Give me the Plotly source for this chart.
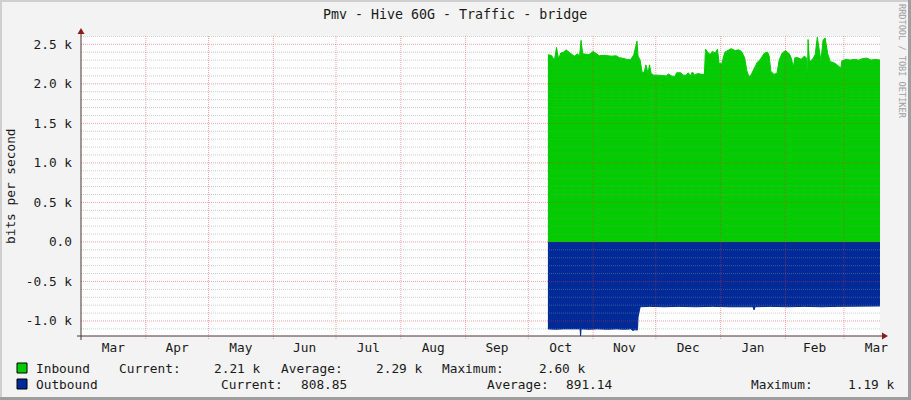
import pandas as pd
import plotly.graph_objects as go

TITLE = "Pmv - Hive 60G - Traffic - bridge"
Y_TITLE = "bits per second"
CREDIT = "RRDTOOL / TOBI OETIKER"

# month boundaries shown on the x axis (labels sit in the middle of each month)
MONTH_STARTS = pd.date_range("2018-03-01", "2019-04-01", freq="MS")
X_RANGE = ["2018-03-01", "2019-03-18 06:00"]

Y_TICKS = [-1000, -500, 0, 500, 1000, 1500, 2000, 2500]
Y_TICK_TEXT = ["-1.0 k", "-0.5 k", "0.0", "0.5 k", "1.0 k", "1.5 k", "2.0 k", "2.5 k"]
Y_RANGE = [-1190, 2605]

# Inbound traffic (bits per second)
IN_DATES = [
    "2018-10-10 09:00", "2018-10-12", "2018-10-13 12:00", "2018-10-14 12:00", "2018-10-15 12:00",
    "2018-10-16 12:00", "2018-10-18", "2018-10-19", "2018-10-20", "2018-10-21 12:00",
    "2018-10-23", "2018-10-24 12:00", "2018-10-25 12:00", "2018-10-26 06:00", "2018-10-27",
    "2018-10-28 12:00", "2018-10-30", "2018-11-01", "2018-11-02 12:00", "2018-11-04",
    "2018-11-06", "2018-11-08", "2018-11-10", "2018-11-12", "2018-11-13 12:00",
    "2018-11-15", "2018-11-17", "2018-11-19", "2018-11-20 12:00", "2018-11-22",
    "2018-11-22 12:00", "2018-11-23 12:00", "2018-11-24 12:00", "2018-11-25 12:00", "2018-11-26 06:00",
    "2018-11-27 06:00", "2018-11-28", "2018-11-28 18:00", "2018-11-30", "2018-12-02",
    "2018-12-04", "2018-12-06", "2018-12-07", "2018-12-08 12:00", "2018-12-10",
    "2018-12-11", "2018-12-13", "2018-12-14", "2018-12-15 12:00", "2018-12-16 12:00",
    "2018-12-17 12:00", "2018-12-18 12:00", "2018-12-19 12:00", "2018-12-21", "2018-12-23",
    "2018-12-24 06:00", "2018-12-24 18:00", "2018-12-25 12:00", "2018-12-27", "2018-12-28",
    "2018-12-29 12:00", "2018-12-30 12:00", "2018-12-31 06:00", "2019-01-01 12:00", "2019-01-03",
    "2019-01-04 12:00", "2019-01-06", "2019-01-08", "2019-01-09 12:00", "2019-01-11",
    "2019-01-12 12:00", "2019-01-13 12:00", "2019-01-14 12:00", "2019-01-15 12:00", "2019-01-17",
    "2019-01-18 12:00", "2019-01-20", "2019-01-22", "2019-01-23 12:00", "2019-01-24 06:00",
    "2019-01-25", "2019-01-26 12:00", "2019-01-28", "2019-01-29", "2019-01-30 12:00",
    "2019-02-01", "2019-02-02 12:00", "2019-02-03 06:00", "2019-02-04", "2019-02-04 18:00",
    "2019-02-05 12:00", "2019-02-07", "2019-02-08 12:00", "2019-02-10", "2019-02-11",
    "2019-02-11 12:00", "2019-02-11 20:00", "2019-02-12 12:00", "2019-02-14", "2019-02-15 06:00",
    "2019-02-16 06:00", "2019-02-17 06:00", "2019-02-18", "2019-02-19", "2019-02-20",
    "2019-02-21 06:00", "2019-02-22 12:00", "2019-02-24", "2019-02-25 12:00", "2019-02-27 12:00",
    "2019-02-28", "2019-03-02", "2019-03-04", "2019-03-06", "2019-03-08",
    "2019-03-10", "2019-03-12", "2019-03-14", "2019-03-16", "2019-03-18 06:00",
]
IN_BPS = [
    2367, 2360, 2300, 2460, 2310,
    2390, 2400, 2430, 2410, 2380,
    2350, 2380, 2350, 2550, 2380,
    2375, 2370, 2410, 2385, 2355,
    2360, 2355, 2350, 2355, 2330,
    2325, 2310, 2305, 2370, 2540,
    2350, 2300, 2140, 2150, 2240,
    2140, 2240, 2130, 2110, 2110,
    2105, 2100, 2125, 2100, 2090,
    2140, 2140, 2110, 2110, 2140,
    2100, 2150, 2110, 2130, 2120,
    2120, 2440, 2410, 2370, 2410,
    2390, 2440, 2260, 2250, 2400,
    2420, 2445, 2420, 2430, 2410,
    2330, 2170, 2090, 2110, 2200,
    2270, 2310, 2390, 2400, 2350,
    2160, 2120, 2135, 2300, 2390,
    2420, 2390, 2360, 2310, 2200,
    2330, 2330, 2310, 2350, 2330,
    2010, 2560, 2280, 2310, 2370,
    2590, 2440, 2290, 2550, 2580,
    2380, 2280, 2270, 2245, 2200,
    2290, 2310, 2300, 2310, 2300,
    2320, 2325, 2300, 2310, 2300,
]

# Outbound traffic, drawn below zero
OUT_DATES = [
    "2018-10-10 09:00", "2018-10-14", "2018-10-18", "2018-10-22", "2018-10-25 18:00",
    "2018-10-26", "2018-10-26 06:00", "2018-10-30", "2018-11-03", "2018-11-08",
    "2018-11-12", "2018-11-16", "2018-11-19", "2018-11-20", "2018-11-21",
    "2018-11-22 06:00", "2018-11-22 12:00", "2018-11-23 12:00", "2018-11-28", "2018-12-05",
    "2018-12-12", "2018-12-20", "2018-12-28", "2019-01-05", "2019-01-12",
    "2019-01-16 12:00", "2019-01-17", "2019-01-17 12:00", "2019-01-25", "2019-02-02",
    "2019-02-10", "2019-02-18", "2019-02-26", "2019-03-06", "2019-03-18 06:00",
]
OUT_BPS = [
    -1100, -1105, -1100, -1100, -1100,
    -1190, -1100, -1105, -1100, -1105,
    -1100, -1105, -1100, -1120, -1110,
    -1115, -950, -820, -815, -820,
    -815, -820, -815, -820, -815,
    -820, -860, -820, -815, -820,
    -815, -820, -815, -810, -810,
]

IN_STATS = ["2.21 k", "2.29 k", "2.60 k"]
OUT_STATS = ["808.85", "891.14", "1.19 k"]

GREEN = "#00CC00"
BLUE = "#002A97"
MONO = "DejaVu Sans Mono"
GRID_MINOR = "rgba(143,143,143,0.45)"
GRID_MAJOR = "rgba(222,48,48,0.45)"

# plot area in pixels of the 911x400 page
L, R, T, B = 81, 880, 36, 336


def px(x):
    return (x - L) / (R - L)


def py(y):
    return (B - y) / (B - T)


fig = go.Figure()
fig.add_trace(go.Scatter(
    x=IN_DATES, y=IN_BPS, mode="lines", fill="tozeroy",
    line=dict(color=GREEN, width=1), fillcolor=GREEN, name="Inbound", hoverinfo="skip"))
fig.add_trace(go.Scatter(
    x=OUT_DATES, y=OUT_BPS, mode="lines", fill="tozeroy",
    line=dict(color=BLUE, width=1), fillcolor=BLUE, name="Outbound", hoverinfo="skip"))

shapes = []
# horizontal grid, drawn over the areas like rrdtool does
for v in range(-1100, 2601, 100):
    major = v in Y_TICKS
    shapes.append(dict(
        type="line", xref="paper", yref="y", x0=0, x1=1, y0=v, y1=v, layer="above",
        line=dict(color=GRID_MAJOR if major else GRID_MINOR, width=1, dash="1px,1px")))
# month boundaries
for d in MONTH_STARTS[1:-1]:
    shapes.append(dict(
        type="line", xref="x", yref="paper", x0=d, x1=d, y0=py(339), y1=1, layer="above",
        line=dict(color=GRID_MAJOR, width=1, dash="1px,1px")))
# axes with arrow heads
axis_col = "#4A3434"
arrow_col = "#8B1A1A"
shapes.append(dict(type="line", xref="paper", yref="paper", x0=px(77), x1=px(884),
                   y0=0, y1=0, layer="above", line=dict(color=axis_col, width=1)))
shapes.append(dict(type="line", xref="paper", yref="paper", x0=0, x1=0,
                   y0=py(340), y1=py(32), layer="above", line=dict(color=axis_col, width=1)))
shapes.append(dict(
    type="path", xref="paper", yref="paper", layer="above",
    path=f"M {px(888)},{py(336)} L {px(882)},{py(332.5)} L {px(882)},{py(339.5)} Z",
    fillcolor=arrow_col, line=dict(color=arrow_col, width=0)))
shapes.append(dict(
    type="path", xref="paper", yref="paper", layer="above",
    path=f"M {px(81)},{py(28)} L {px(77.5)},{py(34)} L {px(84.5)},{py(34)} Z",
    fillcolor=arrow_col, line=dict(color=arrow_col, width=0)))
# legend colour boxes
for y0, col in [(363, GREEN), (379, BLUE)]:
    shapes.append(dict(type="rect", xref="paper", yref="paper",
                       x0=px(17), x1=px(27), y0=py(y0 + 10), y1=py(y0),
                       fillcolor=col, line=dict(color="#000000", width=1)))
# 3d-ish page frame
shapes.append(dict(type="line", xref="paper", yref="paper", x0=px(0), x1=px(911),
                   y0=py(1), y1=py(1), line=dict(color="#CFCFCF", width=2)))
shapes.append(dict(type="line", xref="paper", yref="paper", x0=px(1), x1=px(1),
                   y0=py(0), y1=py(400), line=dict(color="#CFCFCF", width=2)))
shapes.append(dict(type="line", xref="paper", yref="paper", x0=px(0), x1=px(911),
                   y0=py(398.5), y1=py(398.5), line=dict(color="#9E9E9E", width=3)))
shapes.append(dict(type="line", xref="paper", yref="paper", x0=px(909.5), x1=px(909.5),
                   y0=py(0), y1=py(400), line=dict(color="#9E9E9E", width=3)))


def note(text, x, y, size=12.8, color="#1A1A1A", anchor="left", angle=0):
    return dict(text=text, x=px(x), y=py(y), xref="paper", yref="paper",
                xanchor=anchor, yanchor="middle", showarrow=False, textangle=angle,
                font=dict(family=MONO, size=size, color=color))


annotations = [
    note(TITLE, 455, 14, size=13.3, anchor="center"),
    note(Y_TITLE, 10, 186, anchor="center", angle=-90),
    note(CREDIT, 902, 61, size=8.6, color="#A0A0A0", anchor="center", angle=90),
    note("Inbound", 34, 368),
    note("Current:", 116.7, 368),
    note(IN_STATS[0], 212, 368),
    note("Average:", 279, 368),
    note(IN_STATS[1], 374, 368),
    note("Maximum:", 440, 368),
    note(IN_STATS[2], 536.7, 368),
    note("Outbound", 34, 384),
    note("Current:", 219.3, 384),
    note(OUT_STATS[0], 299, 384),
    note("Average:", 485, 384),
    note(OUT_STATS[1], 564, 384),
    note("Maximum:", 749.3, 384),
    note(OUT_STATS[2], 845.7, 384),
]

month_mids = [a + (b - a) / 2 for a, b in zip(MONTH_STARTS[:-1], MONTH_STARTS[1:])]

fig.update_layout(
    width=911, height=400,
    margin=dict(l=L, r=911 - R, t=T, b=400 - B, pad=0),
    paper_bgcolor="#F3F3F3", plot_bgcolor="#FFFFFF",
    showlegend=False,
    font=dict(family=MONO, size=12.8, color="#1A1A1A"),
    xaxis=dict(
        type="date", range=X_RANGE, showgrid=False, zeroline=False, showline=False,
        tickvals=month_mids, ticktext=[d.strftime("%b") for d in MONTH_STARTS[:-1]],
        ticks="", ticklabelstandoff=2, fixedrange=True),
    yaxis=dict(
        range=Y_RANGE, showgrid=False, zeroline=False, showline=False,
        tickvals=Y_TICKS, ticktext=Y_TICK_TEXT,
        ticks="", ticklabelstandoff=8, fixedrange=True),
    shapes=shapes,
    annotations=annotations,
)

# drop the browser's default page margin so the 911x400 figure fills the window
fig.write_html("out.html", config={"displayModeBar": False},
               post_script="document.body.style.margin='0';")
